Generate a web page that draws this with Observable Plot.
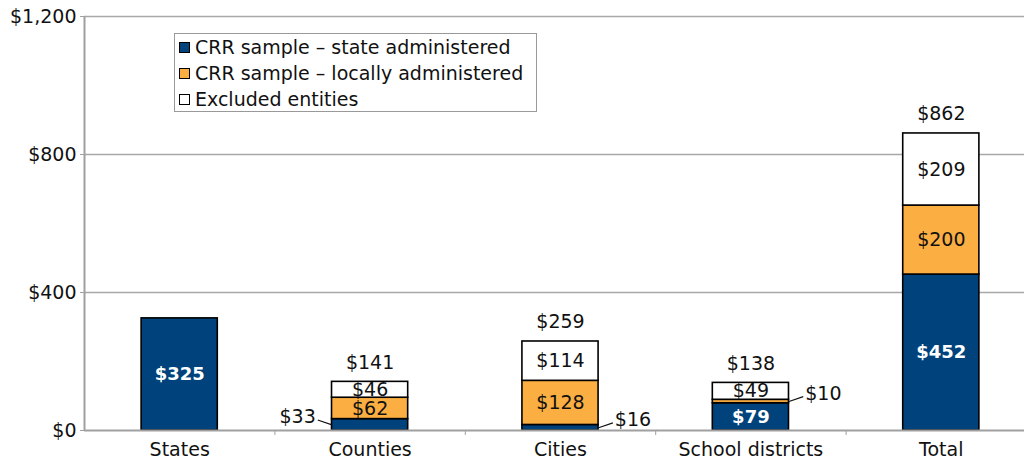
<!DOCTYPE html>
<html><head><meta charset="utf-8">
<script src="https://cdn.jsdelivr.net/npm/d3@7"></script>
<script src="https://cdn.jsdelivr.net/npm/@observablehq/plot@0.6"></script>
<style>
body{margin:0;background:#fff;font-family:"DejaVu Sans",sans-serif;}
#wrap{position:relative;width:1024px;height:468px;overflow:hidden;}
#legend{position:absolute;left:174px;top:33px;width:363px;height:79px;border:1px solid #999;background:#fff;box-sizing:border-box;padding:0 0 0 4px;font-size:19px;line-height:26px;color:#111;}
#legend .row{display:flex;align-items:center;height:26px;white-space:nowrap;}
#legend .sw{width:11px;height:11px;border:1px solid #000;box-sizing:border-box;margin-right:5px;flex:none;}
</style></head>
<body><div id="wrap"><div id="chart"></div><div id="legend"></div></div>
<script>
const categories = ["States", "Counties", "Cities", "School districts", "Total"];
const series = ["CRR sample – state administered", "CRR sample – locally administered", "Excluded entities"];
const stateAdmin = [325, 33, 16, 79, 452];
const localAdmin = [0, 62, 128, 10, 200];
const excluded = [0, 46, 114, 49, 209];
const totals = [null, 141, 259, 138, 862];
const yTicks = [0, 400, 800, 1200];

const colors = ["#00437c", "#fbae42", "#ffffff"];
const leftSide = new Set(["Counties"]);
const half = 0.2;

const rows = [];
categories.forEach((c, i) => {
  let acc = 0;
  [stateAdmin, localAdmin, excluded].forEach((arr, s) => {
    const v = arr[i];
    if (v > 0) rows.push({i, cat: c, s, series: series[s], v, y1: acc, y2: acc + v, mid: acc + v / 2});
    acc += v;
  });
});
const inside = rows.filter(d => d.v >= 40);
const outside = rows.filter(d => d.v < 40).map(d => {
  const sign = leftSide.has(d.cat) ? -1 : 1;
  return {...d, sign, x1: d.i + sign * half, x2: d.i + sign * (half + 0.075), ly: d.mid + 14};
});
const totRows = totals.map((t, i) => ({i, t})).filter(d => d.t != null);

const fmt = d => "$" + d3.format(",")(d);

const chart = Plot.plot({
  width: 1024, height: 468,
  marginLeft: 84, marginRight: 0, marginTop: 16, marginBottom: 38,
  style: {fontFamily: "DejaVu Sans, sans-serif", fontSize: "19px", color: "#111", background: "#fff"},
  x: {domain: [-0.5, 4.5], range: [84, 1036]},
  y: {domain: [0, 1200]},
  color: {domain: series, range: colors},
  marks: [
    Plot.gridY(yTicks.slice(1), {stroke: "#a8a8a8", strokeOpacity: 1, strokeWidth: 1.3}),
    Plot.rect(rows, {x1: d => d.i - half, x2: d => d.i + half, y1: "y1", y2: "y2", fill: "series", stroke: "#000", strokeWidth: 1.6}),
    Plot.ruleY([0], {stroke: "#a0a0a0", strokeWidth: 2}),
    Plot.ruleX([-0.5], {y1: 0, y2: 1200, stroke: "#a0a0a0", strokeWidth: 2}),
    Plot.axisY(yTicks, {tickFormat: fmt, tickSize: 4, tickPadding: 4, stroke: "#a0a0a0", fill: "#111", fontSize: 19}),
    Plot.axisX([0.5, 1.5, 2.5, 3.5], {tickFormat: () => "", tickSize: 5, stroke: "#a0a0a0"}),
    Plot.axisX([0, 1, 2, 3, 4], {tickFormat: i => categories[i], tickSize: 0, tickPadding: 12, fill: "#111", fontSize: 19}),
    Plot.text(inside.filter(d => d.s === 0), {x: "i", y: "mid", text: d => fmt(d.v), fill: "#fff", fontWeight: "bold", fontSize: 18}),
    Plot.text(inside.filter(d => d.s !== 0), {x: "i", y: "mid", text: d => fmt(d.v), fill: "#111", fontSize: 19}),
    Plot.link(outside, {x1: "x1", y1: "mid", x2: "x2", y2: "ly", stroke: "#111", strokeWidth: 1.2}),
    Plot.text(outside.filter(d => d.sign < 0), {x: "x2", y: "ly", text: d => fmt(d.v), textAnchor: "end", dx: -2, dy: -3, fill: "#111", fontSize: 19}),
    Plot.text(outside.filter(d => d.sign > 0), {x: "x2", y: "ly", text: d => fmt(d.v), textAnchor: "start", dx: 2, dy: -3, fill: "#111", fontSize: 19}),
    Plot.text(totRows, {x: "i", y: "t", text: d => fmt(d.t), dy: -19, fill: "#111", fontSize: 19})
  ]
});
document.getElementById("chart").appendChild(chart);

const legend = document.getElementById("legend");
series.forEach((s, k) => {
  const row = document.createElement("div");
  row.className = "row";
  const sw = document.createElement("span");
  sw.className = "sw";
  sw.style.background = colors[k];
  const tx = document.createElement("span");
  tx.textContent = s;
  row.appendChild(sw); row.appendChild(tx);
  legend.appendChild(row);
});
</script></body></html>
